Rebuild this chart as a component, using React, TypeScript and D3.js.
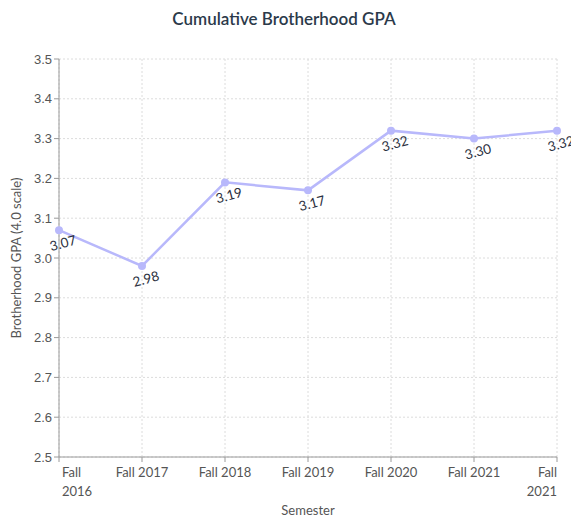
import React from 'react'
import * as d3 from 'd3'

const semesters = ['Fall 2016', 'Fall 2017', 'Fall 2018', 'Fall 2019', 'Fall 2020', 'Fall 2021', 'Fall 2021 ']
const gpa = [3.07, 2.98, 3.19, 3.17, 3.32, 3.3, 3.32]
const yTicks = [2.5, 2.6, 2.7, 2.8, 2.9, 3.0, 3.1, 3.2, 3.3, 3.4, 3.5]

const W = 571
const H = 517
const margin = { top: 59, right: 14, bottom: 60, left: 59 }

export default function App() {
  const x = d3
    .scalePoint<string>()
    .domain(semesters)
    .range([margin.left, W - margin.right])
  const y = d3
    .scaleLinear()
    .domain([2.5, 3.5])
    .range([H - margin.bottom, margin.top])

  const pts = semesters.map((s, i) => ({ s, v: gpa[i] }))
  const line = d3
    .line<{ s: string; v: number }>()
    .x((d) => x(d.s)!)
    .y((d) => y(d.v))

  const bottom = H - margin.bottom
  const axisColor = '#9a9a9a'

  return (
    <svg width={W} height={H} style={{ position: 'absolute', left: 0, top: 0 }}>
      <text
        x={284}
        y={25}
        textAnchor="middle"
        fontFamily="Lato"
        fontWeight={600}
        fontSize={17}
        fill="#2b3a4a"
      >
        Cumulative Brotherhood GPA
      </text>

      {/* grid */}
      {yTicks.map((t) => (
        <line
          key={`gy-${t}`}
          x1={margin.left}
          x2={W - margin.right}
          y1={y(t)}
          y2={y(t)}
          stroke="#dcdcdc"
          strokeDasharray="2,2"
        />
      ))}
      {semesters.map((s) => (
        <line
          key={`gx-${s}`}
          x1={x(s)}
          x2={x(s)}
          y1={margin.top}
          y2={bottom}
          stroke="#dcdcdc"
          strokeDasharray="2,2"
        />
      ))}

      {/* axes */}
      <line x1={margin.left} x2={margin.left} y1={margin.top} y2={bottom} stroke={axisColor} />
      <line x1={margin.left} x2={W - margin.right} y1={bottom} y2={bottom} stroke={axisColor} />
      {yTicks.map((t) => (
        <g key={`yt-${t}`}>
          <line x1={margin.left - 5} x2={margin.left} y1={y(t)} y2={y(t)} stroke={axisColor} />
          <text
            x={margin.left - 7}
            y={y(t)}
            dy="0.35em"
            textAnchor="end"
            fontFamily="Liberation Sans"
            fontSize={13}
            fill="#555"
          >
            {t.toFixed(1)}
          </text>
        </g>
      ))}
      {semesters.map((s, i) => {
        const px = x(s)!
        const parts = s.trim().split(' ')
        const first = i === 0
        const last = i === semesters.length - 1
        return (
          <g key={`xt-${i}`}>
            <line x1={px} x2={px} y1={bottom} y2={bottom + 5} stroke={axisColor} />
            {first || last ? (
              <text
                x={first ? px + 3 : px}
                y={bottom + 20}
                textAnchor={first ? 'start' : 'end'}
                fontFamily="Lato"
                fontSize={13}
                fill="#555"
              >
                <tspan x={first ? px + 3 : px}>{parts[0]}</tspan>
                <tspan x={first ? px + 3 : px} dy={19}>
                  {parts[1]}
                </tspan>
              </text>
            ) : (
              <text
                x={px}
                y={bottom + 20}
                textAnchor="middle"
                fontFamily="Lato"
                fontSize={13}
                fill="#555"
              >
                {s}
              </text>
            )}
          </g>
        )
      })}

      {/* axis titles */}
      <text
        x={308}
        y={H - 2}
        textAnchor="middle"
        fontFamily="Lato"
        fontSize={13}
        fill="#555"
      >
        Semester
      </text>
      <text
        transform={`translate(21, ${(margin.top + bottom) / 2}) rotate(-90)`}
        textAnchor="middle"
        fontFamily="Lato"
        fontSize={13}
        fill="#555"
      >
        Brotherhood GPA (4.0 scale)
      </text>

      {/* series */}
      <path d={line(pts) || ''} fill="none" stroke="#b8b8fb" strokeWidth={2.5} />
      {pts.map((d, i) => (
        <circle key={`pt-${i}`} cx={x(d.s)} cy={y(d.v)} r={4} fill="#b8b8fb" />
      ))}
      {pts.map((d, i) => {
        const cx = x(d.s)! + 4
        const cy = y(d.v) + 13
        return (
          <text
            key={`lbl-${i}`}
            transform={`translate(${cx}, ${cy}) rotate(-15)`}
            textAnchor="middle"
            dy="0.35em"
            fontFamily="Lato"
            fontSize={13.5}
            fill="#2b3040"
          >
            {d.v.toFixed(2)}
          </text>
        )
      })}
    </svg>
  )
}
